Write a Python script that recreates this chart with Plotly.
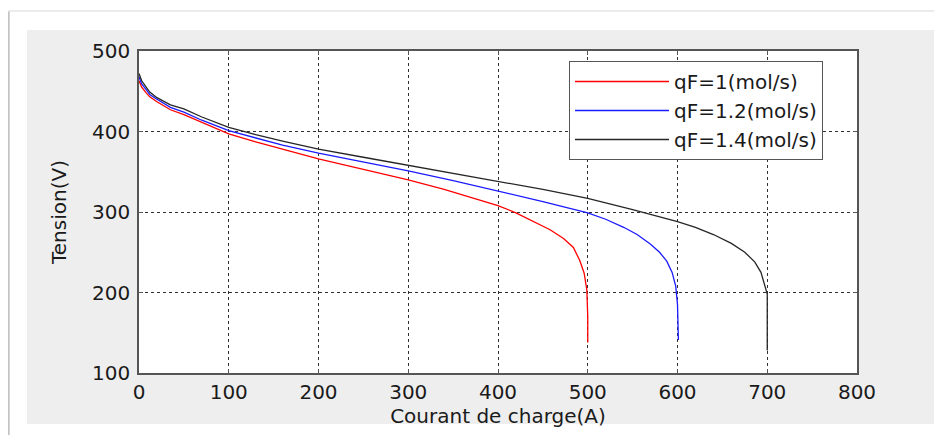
import plotly.graph_objects as go

# ---- data ----
names = ["qF=1(mol/s)", "qF=1.2(mol/s)", "qF=1.4(mol/s)"]
colors = ["#ff0000", "#1a1aff", "#262626"]

x_q1 = [0, 3, 8, 12, 20, 35, 50, 70, 100, 130, 160, 200, 250, 300, 340, 380, 400, 420, 440, 458, 473, 484, 491, 496, 499, 500, 500]
v_q1 = [463, 455, 448, 443, 437, 427, 421, 411, 397, 387, 378, 366, 353, 340, 328, 315, 308, 299, 288, 278, 267, 256, 240, 224, 203, 170, 138]

x_q12 = [0, 3, 8, 12, 20, 35, 50, 70, 100, 130, 160, 200, 250, 300, 350, 400, 450, 500, 520, 540, 555, 570, 580, 588, 594, 598, 600, 601]
v_q12 = [468, 459, 452, 446, 440, 430, 424, 414, 401, 392, 383, 373, 362, 351, 339, 326, 313, 299, 291, 281, 272, 260, 250, 239, 225, 208, 185, 141]

x_q14 = [0, 3, 8, 12, 20, 35, 50, 70, 100, 130, 160, 200, 250, 300, 350, 400, 450, 500, 550, 600, 620, 640, 660, 675, 686, 693, 697, 700, 700]
v_q14 = [472, 463, 455, 449, 442, 433, 428, 418, 405, 396, 388, 378, 368, 358, 348, 338, 328, 317, 303, 288, 281, 272, 261, 250, 238, 225, 210, 198, 128]

x_ticks = [0, 100, 200, 300, 400, 500, 600, 700, 800]
y_ticks = [100, 200, 300, 400, 500]

series_x = [x_q1, x_q12, x_q14]
series_y = [v_q1, v_q12, v_q14]

FONT = "DejaVu Sans, Liberation Sans, Arial, sans-serif"
TXT = "#1a1a1a"

fig = go.Figure()
for nm, c, xs, ys in zip(names, colors, series_x, series_y):
    fig.add_trace(go.Scatter(x=xs, y=ys, mode="lines", name=nm,
                             line=dict(color=c, width=1.3)))

# the page body has an 8px margin: work in reference pixels minus 8
OFF = 8
W, H = 942 - OFF, 435 - OFF
L, R, T, B = 139 - OFF, 857 - OFF, 51 - OFF, 373 - OFF
pw, ph = R - L, B - T


def px(xp):
    return (xp - OFF - L) / pw


def py(yp):
    return (B - (yp - OFF)) / ph


shapes = [
    # outer window frame
    dict(type="line", xref="paper", yref="paper", x0=px(8.5), x1=px(8.5), y0=py(11), y1=py(445),
         line=dict(color="#c4c4c4", width=2.5), layer="below"),
    dict(type="line", xref="paper", yref="paper", x0=px(8), x1=px(950), y0=py(11), y1=py(11),
         line=dict(color="#e4e4e4", width=1.5), layer="below"),
    # grey figure background
    dict(type="rect", xref="paper", yref="paper", x0=px(27), x1=px(936), y0=py(424), y1=py(30),
         fillcolor="#eeeeee", line=dict(width=0), layer="below"),
    # white axes area
    dict(type="rect", xref="paper", yref="paper", x0=0, x1=1, y0=0, y1=1,
         fillcolor="white", line=dict(width=0), layer="below"),
]

axis_common = dict(
    showgrid=True, gridcolor="#303030", griddash="dot", gridwidth=1,
    showline=True, linecolor="#555555", linewidth=1.5, mirror="ticks",
    ticks="inside", ticklen=4, tickcolor="#555555",
    zeroline=False, automargin=False,
    tickfont=dict(family=FONT, size=20, color=TXT),
)

fig.update_layout(
    width=W, height=H,
    margin=dict(l=L, r=W - R, t=T, b=H - B, pad=0),
    paper_bgcolor="white",
    plot_bgcolor="white",
    shapes=shapes,
    showlegend=True,
    legend=dict(
        x=px(569), y=py(61), xanchor="left", yanchor="top",
        bgcolor="white", bordercolor="#555555", borderwidth=1,
        font=dict(family=FONT, size=20, color=TXT),
        tracegroupgap=0, itemwidth=94,
    ),
    xaxis=dict(range=[0, 800], tickvals=x_ticks, ticktext=[str(v) for v in x_ticks],
               title=dict(text="Courant de charge(A)", standoff=6,
                          font=dict(family=FONT, size=20, color=TXT)),
               **axis_common),
    yaxis=dict(range=[100, 500], tickvals=y_ticks, ticktext=[str(v) for v in y_ticks],
               ticklabelstandoff=3,
               title=dict(text="Tension(V)", standoff=20,
                          font=dict(family=FONT, size=20, color=TXT)),
               **axis_common),
)

fig.write_html("out.html")
